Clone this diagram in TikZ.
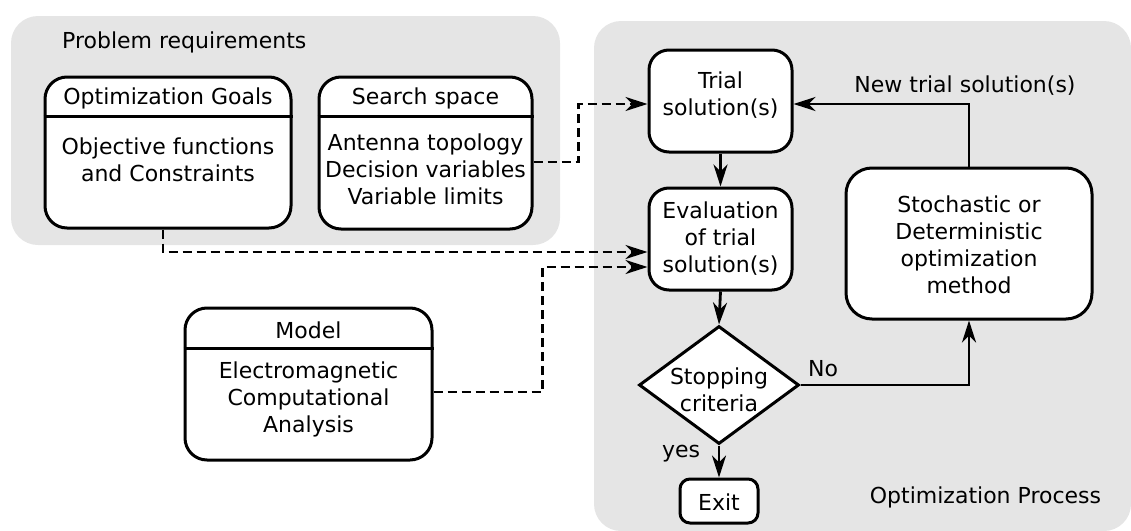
\documentclass[tikz,border=0pt]{standalone}
\usepackage{fontspec}
\setmainfont{DejaVu Sans}
\usetikzlibrary{arrows.meta,shapes.geometric,calc}
\definecolor{panelgray}{RGB}{229,229,229}
\begin{document}
\begin{tikzpicture}[x=1pt,y=-1pt,
  panel/.style={fill=panelgray, draw=none, rounded corners=27pt, inner sep=0pt},
  box/.style={draw=black, fill=white, line width=3pt, rounded corners=#1, inner sep=0pt},
  box/.default=22pt,
  dia/.style={draw=black, fill=white, line width=3pt, diamond, inner sep=0pt},
  txt/.style={font=\fontsize{22}{27}\selectfont, align=center, inner sep=0pt},
  sep/.style={line width=3pt},
  arr/.style={line width=2.8pt, -{Stealth[length=22pt,width=14pt,inset=7pt]}},
  dashline/.style={arr, line width=2.7pt, dash pattern=on 9pt off 5pt}
]
\useasboundingbox (0,0) rectangle (1131,530);

% panels
\node[panel, minimum width=549pt, minimum height=229pt] (reqpanel) at (285.5,130.5) {};
\node[panel, minimum width=537pt, minimum height=510pt] (optpanel) at (862.5,276) {};
\node[txt, anchor=base west] (reqtitle) at (62,48) {Problem requirements};
\node[txt] (proctitle) at (985.5,497) {Optimization Process};

% Optimization goals
\node[box, minimum width=246pt, minimum height=151pt] (opt) at (168,152.5) {};
\draw[sep] (opt.west |- 0,116) -- (opt.east |- 0,116);
\node[txt] (opthead) at (168,98) {Optimization Goals};
\node[txt] (optbody) at (168,160) {Objective functions\\and Constraints};

% Search space
\node[box, minimum width=213pt, minimum height=152pt] (search) at (425.5,153) {};
\draw[sep] (search.west |- 0,116) -- (search.east |- 0,116);
\node[txt] (searchhead) at (425.5,98) {Search space};
\node[txt] (searchbody) at (425.5,169) {Antenna topology\\Decision variables\\Variable limits};

% Model
\node[box, minimum width=247pt, minimum height=152pt] (model) at (308.5,384) {};
\draw[sep] (model.west |- 0,348) -- (model.east |- 0,348);
\node[txt] (modelhead) at (308.5,330) {Model};
\node[txt] (modelbody) at (308.5,399) {Electromagnetic\\Computational\\Analysis};

% Process
\node[box=20pt, minimum width=143pt, minimum height=102pt] (trial) at (720.5,101) {};
\node[txt] (trialtxt) at (720.5,95) {Trial\\solution(s)};
\node[box=20pt, minimum width=143pt, minimum height=102pt] (eval) at (720.5,239) {};
\node[txt] (evaltxt) at (720.5,239) {Evaluation\\of trial\\solution(s)};
\node[box=26pt, minimum width=246pt, minimum height=151pt] (stoch) at (969,243.5) {};
\node[txt] (stochtxt) at (969,245) {Stochastic or\\Deterministic\\optimization\\method};
\node[dia, minimum width=160pt, minimum height=118pt] (stop) at (719,385) {};
\node[txt] (stoptxt) at (719,390) {Stopping\\criteria};
\node[box=10pt, minimum width=78pt, minimum height=44pt] (exit) at (719,501) {};
\node[txt] (exittxt) at (719,502) {Exit};

% labels
\node[txt] (newlbl) at (965,86) {New trial solution(s)};
\node[txt] (nolbl) at (823,369) {No};
\node[txt] (yeslbl) at (681,454) {yes};

% dashed inputs
\draw[dashline] ([yshift=-9pt]search.east) -- ++(45,0) |- ([yshift=-3pt]trial.west);
\draw[dashline] ([xshift=-5pt]opt.south) |- ([yshift=-13pt]eval.west);
\draw[dashline] ([yshift=-8pt]model.east) -- ++(109,0) |- ([yshift=-28pt]eval.west);

% solid flow
\draw[arr] (trial.south) -- (eval.north);
\draw[arr] (eval.south) -- (stop.north);
\draw[arr] (stop.south) -- (exit.north);
\draw[arr] (stop.east) -| (stoch.south);
\draw[arr] (stoch.north) |- ([yshift=-3pt]trial.east);
\end{tikzpicture}
\end{document}
